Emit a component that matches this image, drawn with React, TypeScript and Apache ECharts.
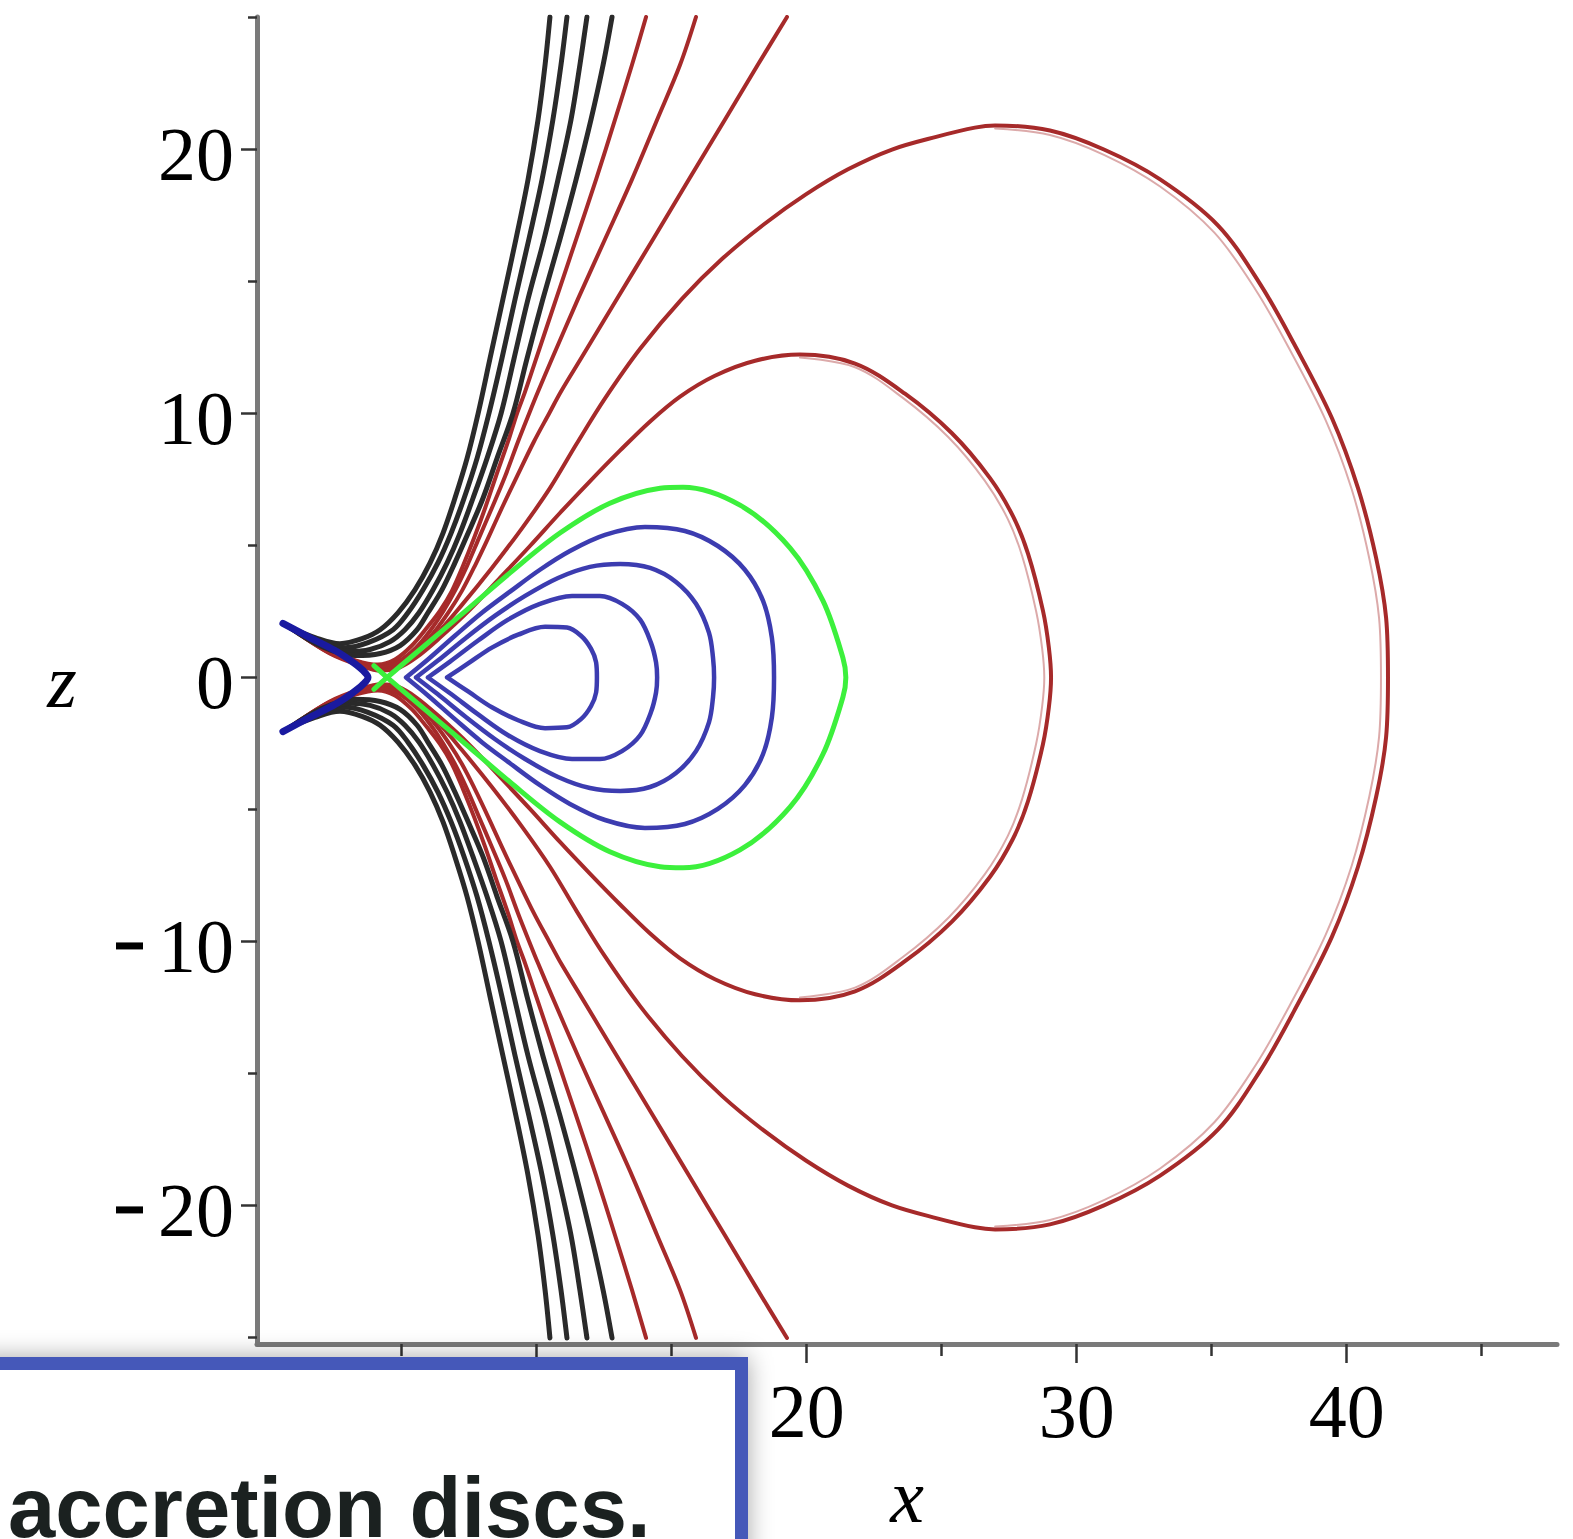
import React, { useEffect, useRef } from "react";
import * as echarts from "echarts";

type P = [number, number];

// ---- open contours (upper half, from inner end to the top edge), x / z ----
const black1: P[] = [[0.86,1.89],[1.79,1.51],[2.71,1.28],[3.53,1.47],[4.20,1.81],[4.86,2.45],[5.49,3.32],[6.05,4.34],[6.53,5.47],[6.97,6.79],[7.42,8.30],[7.83,10.0],[8.27,12.08],[8.75,14.34],[9.23,16.60],[9.68,18.87],[10.05,21.13],[10.31,23.21],[10.49,25.02]];
const black2: P[] = [[0.86,1.89],[1.90,1.40],[2.90,1.13],[3.75,1.32],[4.68,1.81],[5.23,2.45],[5.79,3.32],[6.34,4.34],[6.83,5.47],[7.31,6.79],[7.79,8.30],[8.23,10.0],[8.71,12.08],[9.20,14.34],[9.71,16.60],[10.20,18.87],[10.60,21.13],[10.90,23.21],[11.12,25.02]];
const black3: P[] = [[0.86,1.89],[1.97,1.28],[3.09,0.98],[3.83,1.06],[4.57,1.36],[5.12,1.81],[5.64,2.45],[6.16,3.32],[6.68,4.34],[7.16,5.47],[7.64,6.79],[8.16,8.30],[8.68,10.0],[9.16,12.08],[9.68,14.34],[10.27,16.60],[10.79,18.87],[11.27,21.13],[11.60,23.21],[11.86,25.02]];
const black4: P[] = [[0.86,1.89],[2.05,1.17],[3.27,0.83],[4.20,0.91],[4.94,1.21],[5.57,1.81],[5.97,2.45],[6.49,3.32],[6.97,4.34],[7.46,5.47],[8.01,6.79],[8.53,8.30],[9.12,10.0],[9.64,12.08],[10.23,14.34],[10.86,16.60],[11.46,18.87],[12.01,21.13],[12.46,23.21],[12.79,25.02]];
const red1: P[] = [[0.86,1.89],[2.20,1.09],[3.31,0.64],[4.12,0.49],[4.75,0.68],[5.38,1.21],[5.94,1.89],[6.42,2.53],[6.86,3.28],[7.27,4.23],[7.68,5.28],[8.09,6.42],[8.49,7.62],[8.94,8.94],[9.27,10.0],[9.57,10.83],[9.98,12.08],[10.72,14.34],[11.46,16.60],[12.20,18.87],[12.90,21.13],[13.53,23.21],[14.05,25.02]];
const red2: P[] = [[0.86,1.89],[2.27,1.02],[3.46,0.57],[4.23,0.42],[4.86,0.60],[5.53,1.13],[6.08,1.81],[6.53,2.49],[6.97,3.28],[7.42,4.23],[7.86,5.28],[8.34,6.42],[8.83,7.62],[9.31,8.94],[9.72,10.0],[10.05,10.83],[10.57,12.08],[11.53,14.34],[12.53,16.60],[13.53,18.87],[14.46,21.13],[15.31,23.21],[15.90,25.02]];
const red3: P[] = [[0.86,1.89],[2.27,0.98],[3.46,0.53],[4.27,0.38],[4.94,0.60],[5.68,1.13],[6.27,1.81],[6.75,2.49],[7.23,3.28],[7.71,4.23],[8.20,5.28],[8.71,6.42],[9.27,7.62],[9.90,8.94],[10.46,10.0],[10.90,10.83],[11.64,12.08],[12.97,14.34],[14.31,16.60],[15.64,18.87],[16.97,21.13],[18.19,23.21],[19.27,25.02]];

// ---- closed contours (upper half, from left end to the point on z = 0) ----
const redOuter: P[] = [[0.86,1.89],[2.31,0.94],[3.46,0.49],[4.27,0.30],[4.79,0.42],[5.46,0.87],[6.27,1.62],[7.23,2.75],[8.34,4.15],[9.46,5.66],[10.49,7.17],[11.49,8.87],[12.53,10.57],[13.83,12.45],[15.38,14.34],[16.86,15.85],[18.42,17.17],[19.97,18.30],[21.53,19.25],[23.16,20.0],[24.83,20.49],[26.23,20.83],[26.98,20.91],[29.01,20.72],[31.01,20.0],[33.09,18.87],[35.23,17.13],[36.79,14.91],[38.05,12.64],[39.46,9.81],[40.42,7.17],[41.09,4.53],[41.46,2.26],[41.53,0]];
const redOuterFaint: P[] = [[26.98,20.80],[29.01,20.55],[31.01,19.80],[33.09,18.60],[35.10,16.85],[36.62,14.70],[37.85,12.50],[39.22,9.75],[40.18,7.15],[40.84,4.50],[41.20,2.25],[41.27,0]];
const redInner: P[] = [[0.86,1.89],[2.34,0.91],[3.46,0.45],[4.23,0.26],[4.83,0.34],[5.53,0.75],[6.42,1.51],[7.53,2.57],[8.64,3.77],[9.75,4.98],[10.86,6.23],[11.97,7.43],[13.09,8.60],[14.20,9.70],[15.31,10.64],[16.60,11.43],[18.09,12.0],[19.75,12.23],[21.79,11.89],[23.64,10.75],[25.38,9.25],[26.79,7.55],[27.64,6.11],[28.20,4.68],[28.75,2.53],[28.97,1.13],[29.05,0]];
const redInnerFaint: P[] = [[19.75,12.12],[21.79,11.75],[23.55,10.60],[25.25,9.10],[26.60,7.45],[27.45,6.00],[27.98,4.60],[28.50,2.50],[28.72,1.10],[28.80,0]];
const greenCritical: P[] = [[4.46,0],[5.68,1.06],[7.16,2.34],[9.01,3.96],[10.86,5.47],[12.71,6.60],[14.57,7.17],[15.42,7.21],[17.53,6.53],[19.38,4.91],[20.60,2.91],[21.34,0.75],[21.45,0]];
const greenInnerArm: P = [3.97, 0.45];
const blue1: P[] = [[6.68,0],[7.46,0.53],[8.34,1.13],[9.31,1.62],[10.31,1.92],[11.12,1.89],[11.64,1.58],[12.01,1.09],[12.20,0.57],[12.23,0]];
const blue2: P[] = [[5.97,0],[6.79,0.60],[7.83,1.40],[8.94,2.19],[10.12,2.79],[11.31,3.09],[12.34,3.09],[13.16,2.79],[13.83,2.19],[14.23,1.32],[14.42,0.57],[14.46,0]];
const blue3: P[] = [[5.53,0],[6.34,0.64],[7.34,1.47],[8.46,2.34],[9.57,3.09],[10.79,3.77],[11.97,4.19],[13.09,4.30],[14.20,4.15],[15.16,3.62],[15.90,2.79],[16.38,1.70],[16.53,0.75],[16.57,0]];
const blue4: P[] = [[5.16,0],[5.97,0.68],[6.97,1.58],[7.97,2.45],[9.01,3.25],[10.12,4.08],[11.23,4.79],[12.53,5.40],[14.01,5.70],[15.49,5.55],[16.71,4.98],[17.71,4.08],[18.38,2.91],[18.71,1.51],[18.79,0]];
const innerArc: P[] = [[0.6,2.05],[1.60,1.51],[2.53,1.02],[3.16,0.60],[3.57,0.26],[3.75,0]];

// ---- axes ----
const xMajorTicks = [10, 20, 30, 40];
const xMinorTicks = [5, 15, 25, 35, 45];
const xTickLabels = [20, 30, 40];
const zMajorTicks = [-20, -10, 0, 10, 20];
const zMinorTicks = [-25, -15, -5, 5, 15, 25];

const X_MIN = -0.36, X_MAX = 47.79;
const Z_MIN = -25.25, Z_MAX = 25.02;

const BLACK = "#2a2a2a";
const RED = "#a62a2a";
const RED_FAINT = "#dcaaaa";
const GREEN = "#3cf03c";
const BLUE = "#3c3cb0";
const NAVY = "#1a1aa0";

const mirror = (pts: P[]): P[] => pts.map(([x, z]) => [x, -z] as P);
const closed = (upper: P[]): P[] => [...upper, ...mirror(upper).reverse().slice(1)];

function lineSeries(data: P[], color: string, width: number) {
  return {
    type: "line",
    data,
    smooth: 0.34,
    symbol: "none",
    showSymbol: false,
    silent: true,
    lineStyle: { color, width, cap: "round", join: "round" },
  };
}

export default function App() {
  const ref = useRef<HTMLDivElement>(null);
  useEffect(() => {
    if (!ref.current) return;
    const chart = echarts.init(ref.current, undefined, { renderer: "svg" });
    const series: any[] = [];
    series.push(lineSeries(closed(redOuterFaint), RED_FAINT, 2));
    series.push(lineSeries(closed(redInnerFaint), RED_FAINT, 2));
    for (const c of [red1, red2, red3]) {
      series.push(lineSeries(c, RED, 4));
      series.push(lineSeries(mirror(c), RED, 4));
    }
    series.push(lineSeries(closed(redOuter), RED, 4));
    series.push(lineSeries(closed(redInner), RED, 4));
    for (const c of [black1, black2, black3, black4]) {
      series.push(lineSeries(c, BLACK, 5));
      series.push(lineSeries(mirror(c), BLACK, 5));
    }
    for (const c of [blue1, blue2, blue3, blue4]) {
      series.push(lineSeries(closed(c), BLUE, 4.5));
    }
    series.push(lineSeries(closed(innerArc), NAVY, 7));
    const greenData: P[] = [
      greenInnerArm,
      ...mirror(greenCritical),
      ...greenCritical.slice().reverse().slice(1),
      [greenInnerArm[0], -greenInnerArm[1]],
    ];
    series.push(lineSeries(greenData, GREEN, 5));

    const labelFont = { fontFamily: "Liberation Serif", fontSize: 76, color: "#000" };
    const tickStyle = { color: "#333", width: 2.5 };
    const axisLineStyle = { color: "#7a7a7a", width: 5 };

    chart.setOption({
      animation: false,
      backgroundColor: "#ffffff",
      grid: { left: 257, top: 17, width: 1300, height: 1332, containLabel: false },
      xAxis: [
        {
          type: "value", min: X_MIN, max: X_MAX, position: "bottom",
          axisLine: { show: true, onZero: false, lineStyle: axisLineStyle },
          axisTick: { show: true, customValues: xMinorTicks, length: 12, lineStyle: tickStyle },
          axisLabel: { show: true, customValues: xTickLabels, margin: 29, ...labelFont },
          splitLine: { show: false },
          name: "x", nameLocation: "middle", nameGap: 152,
          nameTextStyle: { ...labelFont, fontStyle: "italic", align: "center", verticalAlign: "middle" },
        },
        {
          type: "value", min: X_MIN, max: X_MAX, position: "bottom",
          axisLine: { show: false, onZero: false },
          axisTick: { show: true, customValues: xMajorTicks, length: 19, lineStyle: tickStyle },
          axisLabel: { show: false },
          splitLine: { show: false },
        },
      ],
      yAxis: [
        {
          type: "value", min: Z_MIN, max: Z_MAX, position: "left",
          axisLine: { show: true, onZero: false, lineStyle: axisLineStyle },
          axisTick: { show: true, customValues: zMajorTicks, length: 16, lineStyle: tickStyle },
          axisLabel: {
            show: true, customValues: zMajorTicks, margin: 23, ...labelFont,
            padding: [9, 0, 0, 0],
            formatter: (v: number) => (v < 0 ? `{m| }{s| }${-v}` : `${v}`),
            rich: {
              m: { width: 27, height: 7, backgroundColor: "#000", fontSize: 10 },
              s: { width: 15, fontSize: 10 },
            },
          },
          splitLine: { show: false },
          name: "z", nameLocation: "middle", nameGap: 195, nameRotate: 0,
          nameTextStyle: { ...labelFont, fontStyle: "italic", align: "center", verticalAlign: "middle" },
        },
        {
          type: "value", min: Z_MIN, max: Z_MAX, position: "left",
          axisLine: { show: false, onZero: false },
          axisTick: { show: true, customValues: zMinorTicks, length: 9, lineStyle: tickStyle },
          axisLabel: { show: false },
          splitLine: { show: false },
        },
      ],
      series,
      graphic: [
        {
          type: "rect", z: 100,
          shape: { x: -20, y: 1363.5, width: 761.5, height: 300 },
          style: { fill: "#ffffff", stroke: "#4459b9", lineWidth: 13, shadowBlur: 24, shadowColor: "rgba(0,0,0,0.35)" },
        },
        {
          type: "text", z: 101, x: 8, y: 1507,
          style: {
            text: "accretion discs.", font: 'bold 85px "Liberation Sans"', fill: "#1b2120",
            verticalAlign: "middle", textVerticalAlign: "middle",
          },
        },
      ],
    });
    return () => chart.dispose();
  }, []);
  return <div ref={ref} style={{ position: "absolute", left: 0, top: 0, width: 1573, height: 1539 }} />;
}
